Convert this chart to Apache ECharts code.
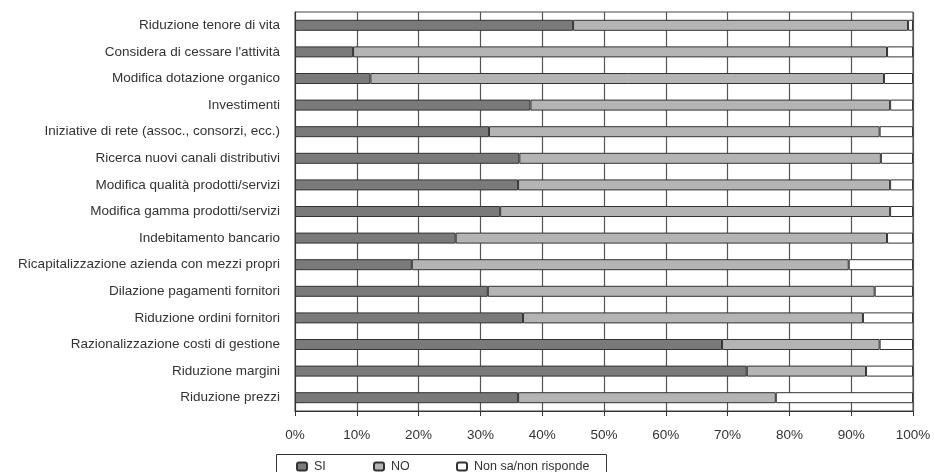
<!DOCTYPE html>
<html>
<head>
<meta charset="utf-8">
<script src="https://cdn.jsdelivr.net/npm/echarts@6/dist/echarts.min.js"></script>
<style>
html,body{margin:0;padding:0;background:#fff;}
#c{width:935px;height:472px;}
</style>
</head>
<body>
<div id="c"></div>
<script>
var categories = [
  "Riduzione tenore di vita",
  "Considera di cessare l'attività",
  "Modifica dotazione organico",
  "Investimenti",
  "Iniziative di rete (assoc., consorzi, ecc.)",
  "Ricerca nuovi canali distributivi",
  "Modifica qualità prodotti/servizi",
  "Modifica gamma prodotti/servizi",
  "Indebitamento bancario",
  "Ricapitalizzazione azienda con mezzi propri",
  "Dilazione pagamenti fornitori",
  "Riduzione ordini fornitori",
  "Razionalizzazione costi di gestione",
  "Riduzione margini",
  "Riduzione prezzi"
];
var siValues = [45.0, 9.4, 12.2, 38.1, 31.4, 36.3, 36.1, 33.2, 26.0, 18.9, 31.2, 36.9, 69.1, 73.1, 36.1];
var noValues = [54.2, 86.4, 83.1, 58.2, 63.2, 58.5, 60.2, 63.1, 69.8, 70.7, 62.6, 55.0, 25.5, 19.3, 41.7];
var nsValues = [0.8, 4.2, 4.7, 3.7, 5.4, 5.2, 3.7, 3.7, 4.2, 10.4, 6.2, 8.1, 5.4, 7.6, 22.2];
var seriesNames = ["SI", "NO", "Non sa/non risponde"];
var tickLabels = ["0%", "10%", "20%", "30%", "40%", "50%", "60%", "70%", "80%", "90%", "100%"];

var fillColors = ["#7a7a7a", "#b4b4b4", "#ffffff"];
var font = "'Liberation Sans', Arial, Helvetica, sans-serif";
var chart = echarts.init(document.getElementById('c'), null, {renderer: 'canvas'});

function mkSeries(name, data, idx) {
  return {
    name: name,
    type: 'bar',
    stack: 'total',
    data: data,
    barWidth: 11,
    itemStyle: {color: fillColors[idx], borderColor: '#333', borderWidth: 1},
    emphasis: {disabled: true},
    animation: false
  };
}

function mkLegend(name, left) {
  return {
    data: [name],
    left: left,
    top: 460,
    itemWidth: 10,
    itemHeight: 8,
    itemGap: 0,
    padding: 0,
    textStyle: {fontFamily: font, fontSize: 12.5, color: '#333', padding: [0, 0, 0, 2]},
    selectedMode: false
  };
}

chart.setOption({
  backgroundColor: '#fff',
  animation: false,
  grid: {left: 295, right: 22, top: 12, bottom: 61, show: true, borderColor: '#444', borderWidth: 1, backgroundColor: 'transparent'},
  xAxis: {
    type: 'value',
    min: 0, max: 100, interval: 10,
    axisLine: {show: true, lineStyle: {color: '#333', width: 1}},
    axisTick: {show: true, length: 5, lineStyle: {color: '#333'}},
    splitLine: {show: true, lineStyle: {color: '#555', width: 1.2}},
    axisLabel: {
      margin: 17,
      fontFamily: font, fontSize: 13.5, color: '#333',
      formatter: function (v) { return tickLabels[Math.round(v / 10)]; }
    }
  },
  yAxis: {
    type: 'category',
    data: categories,
    inverse: true,
    axisLine: {show: true, lineStyle: {color: '#333'}},
    axisTick: {show: false},
    splitLine: {show: false},
    axisLabel: {margin: 15, fontFamily: font, fontSize: 13.5, color: '#333'}
  },
  legend: [mkLegend(seriesNames[0], 296), mkLegend(seriesNames[1], 373), mkLegend(seriesNames[2], 456)],
  graphic: [{
    type: 'rect',
    left: 274, top: 452,
    shape: {width: 330, height: 30},
    style: {fill: 'none', stroke: '#333', lineWidth: 1},
    silent: true
  }],
  series: [
    mkSeries(seriesNames[0], siValues, 0),
    mkSeries(seriesNames[1], noValues, 1),
    mkSeries(seriesNames[2], nsValues, 2)
  ]
});
</script>
</body>
</html>
